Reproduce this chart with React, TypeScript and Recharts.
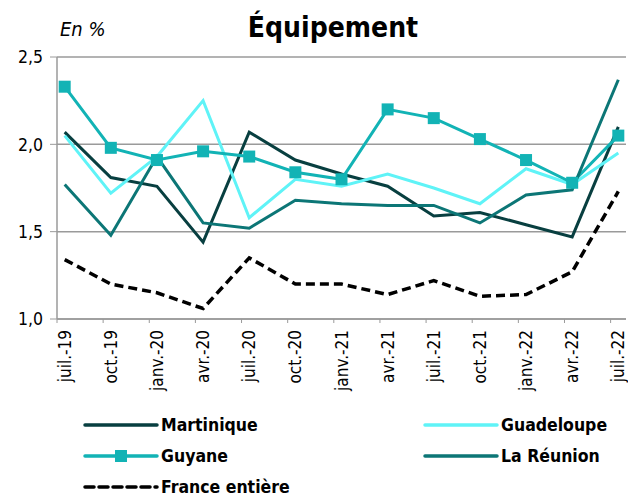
import React from 'react';
import { LineChart, Line, XAxis, YAxis, CartesianGrid } from 'recharts';

// quarterly points, juil.-19 to juil.-22
const quarters = [
  'juil.-19', 'oct.-19', 'janv.-20', 'avr.-20', 'juil.-20', 'oct.-20', 'janv.-21',
  'avr.-21', 'juil.-21', 'oct.-21', 'janv.-22', 'avr.-22', 'juil.-22'
];
const martinique = [2.07, 1.81, 1.76, 1.44, 2.07, 1.91, 1.83, 1.76, 1.59, 1.61, 1.54, 1.47, 2.1];
const guadeloupe = [2.05, 1.72, 1.93, 2.25, 1.58, 1.8, 1.76, 1.83, 1.75, 1.66, 1.86, 1.77, 1.95];
const guyane = [2.33, 1.98, 1.91, 1.96, 1.93, 1.84, 1.8, 2.2, 2.15, 2.03, 1.91, 1.78, 2.05];
const reunion = [1.77, 1.48, 1.93, 1.55, 1.52, 1.68, 1.66, 1.65, 1.65, 1.55, 1.71, 1.74, 2.37];
const france = [1.34, 1.2, 1.15, 1.06, 1.35, 1.2, 1.2, 1.14, 1.22, 1.13, 1.14, 1.27, 1.73];
const yTicks = [1, 1.5, 2, 2.5];

const W = 628;
const H = 497;
const LEFT = 57;
const RIGHT = 2;
const MONTHS = 37;
const HALF_MONTH = (W - LEFT - RIGHT) / MONTHS / 2;
const FONT = '"DejaVu Sans Condensed", "DejaVu Sans", sans-serif';

const C_MART = '#083f40';
const C_GUAD = '#5ff3f7';
const C_GUY = '#12b3b5';
const C_REU = '#0c7676';

const data = quarters.map((q, i) => ({
  x: i * 3 + 0.5,
  label: q,
  martinique: martinique[i],
  guadeloupe: guadeloupe[i],
  guyane: guyane[i],
  reunion: reunion[i],
  france: france[i],
}));

const monthTicks = quarters.map((_, i) => i * 3);

const XTick = ({ x, y, index }: any) => (
  <text
    x={0}
    y={0}
    transform={`translate(${x + HALF_MONTH + 6}, ${y + 5}) rotate(-90)`}
    textAnchor="end"
    fontSize={17}
    fontFamily={FONT}
    fill="#000"
  >
    {quarters[index]}
  </text>
);

const SquareDot = ({ cx, cy }: any) =>
  cx == null ? null : <rect x={cx - 6} y={cy - 6} width={12} height={12} fill={C_GUY} />;

const LegendItem = ({ color, label, dashed, square }: any) => (
  <div style={{ display: 'flex', alignItems: 'center', height: 31 }}>
    <svg width={76} height={14} style={{ marginRight: 2 }}>
      <line x1={2} y1={7} x2={74} y2={7} stroke={color} strokeWidth={3.5}
        strokeDasharray={dashed ? '9 5' : undefined} strokeLinecap="round" />
      {square && <rect x={32} y={1} width={12} height={12} fill={color} />}
    </svg>
    <span style={{ fontWeight: 'bold', fontSize: 17.5, lineHeight: '20px' }}>{label}</span>
  </div>
);

export default function App() {
  return (
    <div style={{ position: 'absolute', left: 0, top: 0, width: W, height: H, background: '#fff', fontFamily: FONT, overflow: 'hidden' }}>
      <div style={{ position: 'absolute', left: 60, top: 17, fontStyle: 'italic', fontSize: 20 }}>En %</div>
      <div style={{ position: 'absolute', left: 0, width: 666, top: 11, textAlign: 'center', fontWeight: 'bold', fontSize: 28 }}>
        Équipement
      </div>
      <LineChart width={W} height={H} data={data} margin={{ top: 57, right: RIGHT, bottom: 113, left: 0 }}>
        <CartesianGrid horizontal vertical={false} stroke="#9a9a9a" strokeWidth={1.5} />
        <XAxis
          dataKey="x"
          type="number"
          domain={[0, MONTHS]}
          ticks={monthTicks}
          interval={0}
          height={65}
          stroke="#9a9a9a"
          tickSize={4}
          tick={<XTick />}
          axisLine={{ stroke: '#9a9a9a', strokeWidth: 1.5 }}
        />
        <YAxis
          type="number"
          domain={[1, 2.5]}
          ticks={yTicks}
          width={LEFT}
          stroke="#9a9a9a"
          tickSize={7}
          axisLine={{ stroke: '#9a9a9a', strokeWidth: 1.5 }}
          tickFormatter={(v: number) => v.toFixed(1).replace('.', ',')}
          tick={{ fill: '#000', fontSize: 17.5, fontFamily: FONT, dx: -5 }}
        />
        <Line dataKey="martinique" stroke={C_MART} strokeWidth={3} dot={false} isAnimationActive={false} />
        <Line dataKey="guadeloupe" stroke={C_GUAD} strokeWidth={3} dot={false} isAnimationActive={false} />
        <Line dataKey="guyane" stroke={C_GUY} strokeWidth={3} dot={<SquareDot />} isAnimationActive={false} />
        <Line dataKey="reunion" stroke={C_REU} strokeWidth={3} dot={false} isAnimationActive={false} />
        <Line dataKey="france" stroke="#000" strokeWidth={3.5} strokeDasharray="9 5" dot={false} isAnimationActive={false} />
      </LineChart>
      <div style={{ position: 'absolute', left: 83, top: 409 }}>
        <LegendItem color={C_MART} label="Martinique" />
        <LegendItem color={C_GUY} label="Guyane" square />
        <LegendItem color="#000" label="France entière" dashed />
      </div>
      <div style={{ position: 'absolute', left: 423, top: 409 }}>
        <LegendItem color={C_GUAD} label="Guadeloupe" />
        <LegendItem color={C_REU} label="La Réunion" />
      </div>
    </div>
  );
}
